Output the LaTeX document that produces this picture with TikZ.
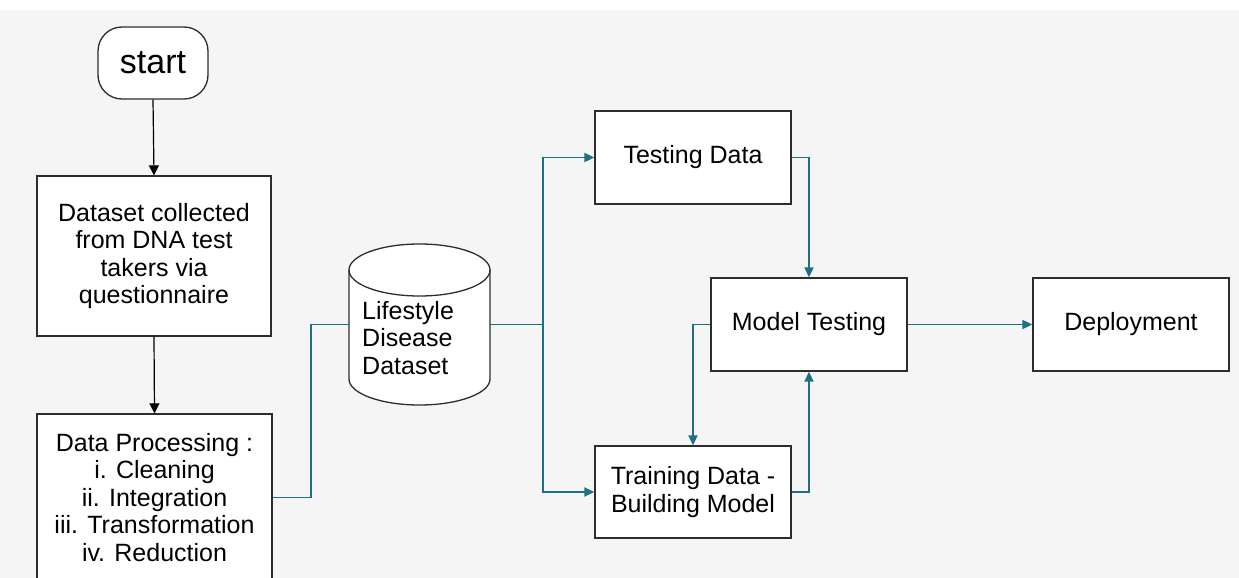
\documentclass[tikz,border=0pt]{standalone}
\usepackage{fontspec}
\setmainfont{Liberation Sans}
\usetikzlibrary{arrows.meta}
\definecolor{teal1}{RGB}{31,111,133}
\definecolor{bgray}{RGB}{245,245,245}
\definecolor{edge}{RGB}{45,45,45}
\begin{document}
\begin{tikzpicture}[x=1pt,y=-1pt,
  box/.style={draw=edge,line width=1.3pt,fill=white,inner sep=0pt,align=center,
    font=\fontsize{25}{27.5}\selectfont},
  blk/.style={draw=black,line width=1.2pt,-{Triangle[length=10pt,width=10pt]}},
  tl/.style={draw=teal1,line width=1.8pt},
  tla/.style={tl,-{Triangle[length=10pt,width=9pt]}}]
\clip (0,0) rectangle (1239,578);
\fill[white] (0,0) rectangle (1239,578);
\fill[bgray] (0,10) rectangle (1239,578);
% nodes
\node[box,rounded corners=24pt,minimum width=110pt,minimum height=72pt,
  font=\fontsize{34}{36}\selectfont] (start) at (153,63) {start};
\node[box,minimum width=234pt,minimum height=160pt] (ds) at (154,256)
  {Dataset collected\\from DNA test\\takers via\\questionnaire};
\node[box,minimum width=235pt,minimum height=167pt] (dp) at (154.5,497.5)
  {Data Processing :\\i. Cleaning\\ii. Integration\\iii. Transformation\\iv. Reduction};
% cylinder
\node[inner sep=0pt,minimum width=141pt,minimum height=161pt] (cyl) at (419.5,324.5) {};
\draw[edge,line width=1.3pt,fill=white] (349,270) -- (349,379)
  arc[start angle=180,end angle=360,x radius=70.5pt,y radius=26pt] -- (490,270)
  arc[start angle=0,end angle=180,x radius=70.5pt,y radius=26pt] -- cycle;
\draw[edge,line width=1.3pt] (349,270)
  arc[start angle=180,end angle=360,x radius=70.5pt,y radius=26pt];
\node[anchor=west,inner sep=0pt,align=left,font=\fontsize{25}{27.5}\selectfont]
  (cyltext) at (362,338) {Lifestyle\\Disease\\Dataset};
\node[box,minimum width=196pt,minimum height=93pt] (test) at (693,157.5) {Testing Data};
\node[box,minimum width=196pt,minimum height=92pt] (train) at (693,492)
  {Training Data -\\Building Model};
\node[box,minimum width=196pt,minimum height=93pt] (mt) at (809,324.5) {Model Testing};
\node[box,minimum width=196pt,minimum height=93pt] (dep) at (1131,324.5) {Deployment};
\coordinate (jn) at (543,324.5);
% connectors
\draw[blk] (start.south) -- (ds.north);
\draw[blk] (ds.south) -- (dp.north);
\draw[tl] (dp.east) -- ++(38,0) |- (cyl.west);
\draw[tl] (cyl.east) -- (jn);
\draw[tla] (jn) |- (test.west);
\draw[tla] (jn) |- (train.west);
\draw[tla] (test.east) -| (mt.north);
\draw[tla] (mt.west) -| (train.north);
\draw[tla] (train.east) -| (mt.south);
\draw[tla] (mt.east) -- (dep.west);
\end{tikzpicture}
\end{document}
